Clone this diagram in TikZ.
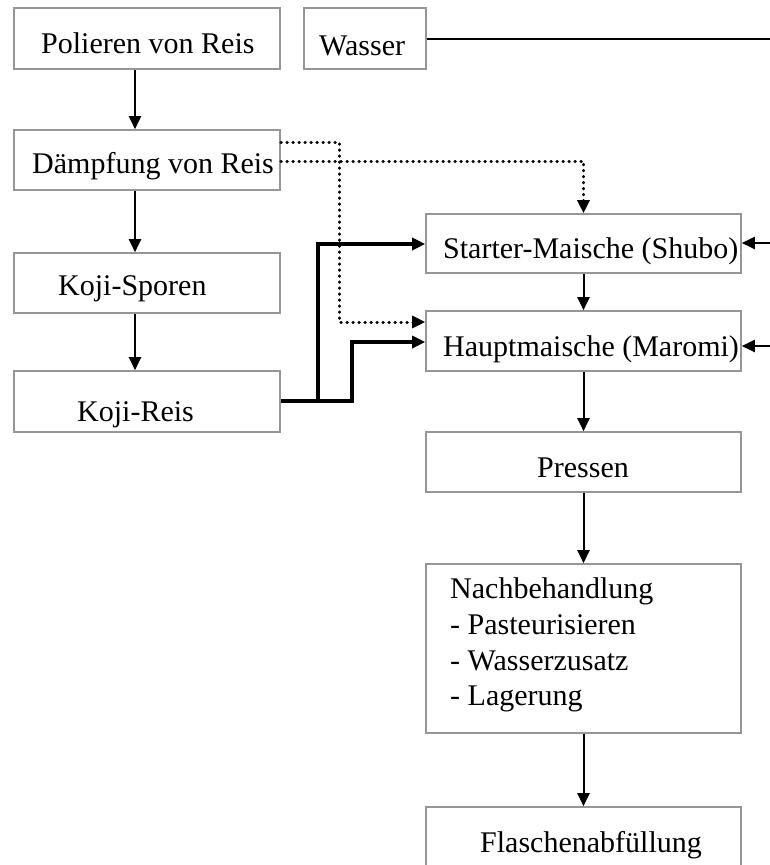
\documentclass[tikz,border=0pt]{standalone}
\usepackage{fontspec}
\setmainfont{Liberation Serif}
\usetikzlibrary{arrows.meta}
\definecolor{boxgray}{RGB}{150,150,150}
\tikzset{
  box/.style={draw=boxgray, line width=1.6pt, rectangle, inner sep=0pt, fill=white},
  lbl/.style={inner sep=0pt, anchor=base west, font=\fontsize{30}{34}\selectfont},
  tip/.style={-{Triangle[length=13pt 0 0,width=12pt 0 0]}},
  arr/.style={tip, line width=2pt},
  thickarr/.style={tip, line width=4.4pt},
  dotarr/.style={tip, line width=3pt, line cap=round, dash pattern=on 0.5pt off 5.5pt},
}
\begin{document}
\begin{tikzpicture}[x=1pt,y=-1pt]
\useasboundingbox (0,0) rectangle (770,865);
% boxes
\node[box, minimum width=266pt, minimum height=61pt] (pol) at (147,38.5) {};
\node[box, minimum width=122pt, minimum height=61pt] (was) at (365,38.5) {};
\node[box, minimum width=266pt, minimum height=60pt] (dam) at (147,160) {};
\node[box, minimum width=266pt, minimum height=60pt] (kojs) at (147,283) {};
\node[box, minimum width=266pt, minimum height=61pt] (kojr) at (147,401.5) {};
\node[box, minimum width=315pt, minimum height=59pt] (sta) at (583.5,243.5) {};
\node[box, minimum width=315pt, minimum height=60pt] (hau) at (583.5,341) {};
\node[box, minimum width=315pt, minimum height=60pt] (pre) at (583.5,462) {};
\node[box, minimum width=315pt, minimum height=169pt] (nach) at (583.5,648.5) {};
\node[box, minimum width=315pt, minimum height=64pt] (fla) at (583.5,839) {};
% texts
\node[lbl] (tpol) at (41,53) {Polieren von Reis};
\node[lbl] (twas) at (319,55) {Wasser};
\node[lbl] (tdam) at (32,173) {Dämpfung von Reis};
\node[lbl] (tkojs) at (58,295) {Koji-Sporen};
\node[lbl] (tkojr) at (77,421) {Koji-Reis};
\node[lbl] (tsta) at (443,258) {Starter-Maische (Shubo)};
\node[lbl] (thau) at (443,356) {Hauptmaische (Maromi)};
\node[lbl] (tpre) at (537,477) {Pressen};
\node[lbl] (tn1) at (450,598) {Nachbehandlung};
\node[lbl] (tn2) at (450,634) {- Pasteurisieren};
\node[lbl] (tn3) at (450,670) {- Wasserzusatz};
\node[lbl] (tn4) at (450,705) {- Lagerung};
\node[lbl] (tfla) at (480,852) {Flaschenabfüllung};
% helper coordinates
\coordinate (xl) at (135,0);
\coordinate (d1) at (339,142);
\coordinate (d2) at (583.5,161);
\coordinate (k1) at (318,401);
\coordinate (k2) at (352,401);
\coordinate (wend) at (770,39);
\coordinate (rs) at (770,243);
\coordinate (rh) at (770,346);
% left column arrows
\draw[arr] (pol.south -| xl) -- (dam.north -| xl);
\draw[arr] (dam.south -| xl) -- (kojs.north -| xl);
\draw[arr] (kojs.south -| xl) -- (kojr.north -| xl);
% right column arrows
\draw[arr] (sta.south) -- (hau.north);
\draw[arr] (hau.south) -- (pre.north);
\draw[arr] (pre.south) -- (nach.north);
\draw[arr] (nach.south) -- (fla.north);
% water
\draw[line width=2.4pt] (was.east |- wend) -- (wend);
\draw[arr] (rs) -- (sta.east |- rs);
\draw[arr] (rh) -- (hau.east |- rh);
% dotted
\draw[dotarr] (dam.east |- d1) -- (d1) |- (hau.west |- 0,322);
\draw[dotarr] (dam.east |- d2) -- (d2) -- (sta.north);
% thick
\draw[thickarr] (kojr.east |- k1) -- (k1) |- (sta.west |- 0,244);
\draw[thickarr] (k1) -- (k2) |- (hau.west |- 0,342);
\end{tikzpicture}
\end{document}
